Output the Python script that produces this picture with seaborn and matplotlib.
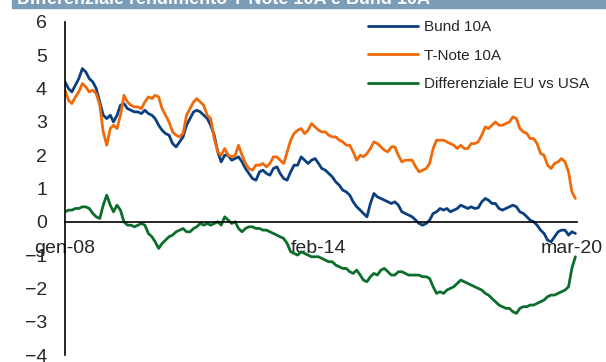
import pandas as pd
import matplotlib
matplotlib.use("Agg")
import matplotlib.pyplot as plt
from matplotlib.patches import Rectangle
import seaborn as sns

# monthly readings, Jan 2008 - Apr 2020
bund = [4.2, 4.0, 3.9, 4.1, 4.3, 4.6, 4.5, 4.3, 4.2, 4.0, 3.6, 3.2,
        3.1, 3.2, 3.0, 3.2, 3.5, 3.55, 3.4, 3.35, 3.3, 3.3, 3.25, 3.35,
        3.25, 3.2, 3.1, 2.9, 2.75, 2.65, 2.6, 2.35, 2.25, 2.4, 2.55, 2.9,
        3.1, 3.3, 3.35, 3.3, 3.2, 3.1, 2.9, 2.6, 2.1, 1.8, 2.0, 2.0,
        1.85, 1.9, 1.95, 1.8, 1.6, 1.45, 1.3, 1.25, 1.5, 1.55, 1.45, 1.4,
        1.6, 1.65, 1.45, 1.3, 1.25, 1.5, 1.7, 1.7, 1.95, 1.85, 1.75, 1.85,
        1.9, 1.75, 1.6, 1.55, 1.45, 1.35, 1.2, 1.1, 0.95, 0.9, 0.8, 0.6,
        0.45, 0.35, 0.25, 0.15, 0.55, 0.85, 0.75, 0.7, 0.65, 0.6, 0.55, 0.6,
        0.5, 0.3, 0.25, 0.2, 0.15, 0.05, -0.05, -0.1, -0.05, 0.05, 0.25, 0.3,
        0.4, 0.35, 0.4, 0.3, 0.35, 0.4, 0.5, 0.45, 0.4, 0.45, 0.4, 0.42,
        0.6, 0.7, 0.65, 0.55, 0.55, 0.4, 0.35, 0.4, 0.45, 0.5, 0.45, 0.3,
        0.25, 0.15, 0.05, 0.0, -0.1, -0.25, -0.35, -0.55, -0.6, -0.45, -0.3, -0.25,
        -0.25, -0.4, -0.3, -0.35]

tnote = [3.95, 3.65, 3.55, 3.75, 3.9, 4.15, 4.05, 3.9, 3.95, 3.85, 3.5, 2.7,
         2.3, 2.8, 2.9, 2.8, 3.2, 3.8, 3.6, 3.5, 3.45, 3.45, 3.4, 3.6,
         3.75, 3.7, 3.8, 3.75, 3.4, 3.2, 3.0, 2.7, 2.6, 2.55, 2.65, 3.2,
         3.4, 3.6, 3.7, 3.6, 3.5, 3.2, 3.1, 2.5, 2.1, 2.0, 2.2, 2.0,
         1.95, 2.0, 2.3, 2.0, 1.75, 1.6, 1.55, 1.7, 1.7, 1.75, 1.65, 1.75,
         1.95, 1.95, 1.85, 1.75, 2.1, 2.45, 2.65, 2.75, 2.8, 2.65, 2.75, 2.95,
         2.85, 2.75, 2.7, 2.7, 2.6, 2.55, 2.55, 2.45, 2.4, 2.3, 2.3, 2.1,
         1.85, 2.0, 1.95, 2.05, 2.2, 2.4, 2.35, 2.25, 2.15, 2.1, 2.25, 2.25,
         2.0, 1.8, 1.85, 1.85, 1.85, 1.65, 1.5, 1.55, 1.6, 1.75, 2.2, 2.45,
         2.45, 2.45, 2.4, 2.35, 2.3, 2.2, 2.3, 2.2, 2.2, 2.35, 2.35, 2.4,
         2.6, 2.85, 2.8, 2.9, 3.0, 2.9, 2.9, 2.95, 3.0, 3.15, 3.1, 2.8,
         2.7, 2.65, 2.5, 2.5, 2.35, 2.05, 2.0, 1.7, 1.6, 1.75, 1.8, 1.9,
         1.8, 1.5, 0.9, 0.7]

diff_eu_usa = [0.3, 0.35, 0.35, 0.4, 0.4, 0.45, 0.45, 0.4, 0.25, 0.15, 0.1, 0.5,
               0.8, 0.5, 0.3, 0.5, 0.35, 0.0, -0.1, -0.1, -0.15, -0.1, -0.05, -0.1,
               -0.35, -0.45, -0.6, -0.8, -0.65, -0.55, -0.45, -0.4, -0.3, -0.25, -0.2, -0.3,
               -0.3, -0.2, -0.15, -0.05, -0.1, -0.05, -0.1, -0.05, 0.0, -0.1, 0.15, 0.05,
               -0.05, 0.0, -0.2, -0.3, -0.2, -0.15, -0.15, -0.2, -0.2, -0.25, -0.25, -0.3,
               -0.35, -0.4, -0.45, -0.5, -0.65, -0.9, -0.95, -1.0, -0.9, -0.95, -1.0, -1.05,
               -1.05, -1.05, -1.1, -1.15, -1.2, -1.2, -1.3, -1.35, -1.4, -1.4, -1.5, -1.55,
               -1.45, -1.6, -1.75, -1.8, -1.65, -1.55, -1.6, -1.45, -1.4, -1.5, -1.6, -1.6,
               -1.5, -1.5, -1.55, -1.6, -1.6, -1.6, -1.6, -1.65, -1.65, -1.7, -1.95, -2.15,
               -2.1, -2.15, -2.05, -2.0, -1.95, -1.85, -1.75, -1.8, -1.85, -1.9, -1.95, -2.0,
               -2.05, -2.15, -2.2, -2.3, -2.4, -2.5, -2.55, -2.6, -2.6, -2.7, -2.75, -2.6,
               -2.55, -2.55, -2.5, -2.5, -2.45, -2.4, -2.35, -2.25, -2.2, -2.2, -2.15, -2.1,
               -2.05, -1.95, -1.4, -1.05]

series_names = ["Bund 10A", "T-Note 10A", "Differenziale EU vs USA"]
tick_dates = ["2008-01-01", "2014-02-01", "2020-03-01"]
tick_labels = ["gen-08", "feb-14", "mar-20"]
title = "Differenziale rendimento T-Note 10A e Bund 10A"

dates = pd.date_range("2008-01-01", periods=len(bund), freq="MS")
df = pd.concat([
    pd.DataFrame({"date": dates, "value": vals, "serie": name})
    for name, vals in zip(series_names, [bund, tnote, diff_eu_usa])
])

sns.set_style("white")
plt.rcParams["font.family"] = ["Liberation Sans", "DejaVu Sans"]

fig = plt.figure(figsize=(6.06, 3.62), dpi=100)
ax = fig.add_axes([65 / 606, 1 - 355 / 362, 512 / 606, 333 / 362])

palette = {"Bund 10A": "#0b3f7e", "T-Note 10A": "#f06a0a",
           "Differenziale EU vs USA": "#0d6e2c"}
sns.lineplot(data=df, x="date", y="value", hue="serie", palette=palette,
             linewidth=2.0, ax=ax)

ax.set_ylim(-4, 6)
ax.set_yticks(range(-4, 7))
ax.set_xlim(pd.Timestamp("2008-01-01"), pd.Timestamp("2020-04-15"))
ax.set_xticks(pd.to_datetime(tick_dates))
ax.set_xticklabels(tick_labels)
ax.set_xlabel("")
ax.set_ylabel("")

for s in ["top", "right"]:
    ax.spines[s].set_visible(False)
ax.spines["bottom"].set_position(("data", 0))
ax.spines["left"].set_color("black")
ax.spines["bottom"].set_color("black")
ax.spines["left"].set_linewidth(1.2)
ax.spines["bottom"].set_linewidth(1.2)
ax.tick_params(axis="y", length=0, pad=13, labelsize=14)
ax.tick_params(axis="x", direction="out", length=5, width=1.2, pad=8,
               labelsize=14, color="black")
ax.grid(False)

handles, labels = ax.get_legend_handles_labels()
ax.legend(handles, labels, loc="upper left", bbox_to_anchor=(368 / 606, 1 - 20 / 362),
          bbox_transform=fig.transFigure, frameon=False, fontsize=11,
          handlelength=3.3, handletextpad=0.35, labelspacing=0.95,
          borderpad=0, borderaxespad=0)

# header band cut off at the top of the picture
fig.patches.append(Rectangle((12 / 606, 1 - 8 / 362), 594 / 606, 8 / 362,
                             transform=fig.transFigure, color="#7c9db7", zorder=0))
fig.text(17 / 606, 1 - 4.5 / 362, title, color="white", fontsize=13,
         fontweight="bold", va="baseline", ha="left")

fig.savefig("out.png", dpi=100)
